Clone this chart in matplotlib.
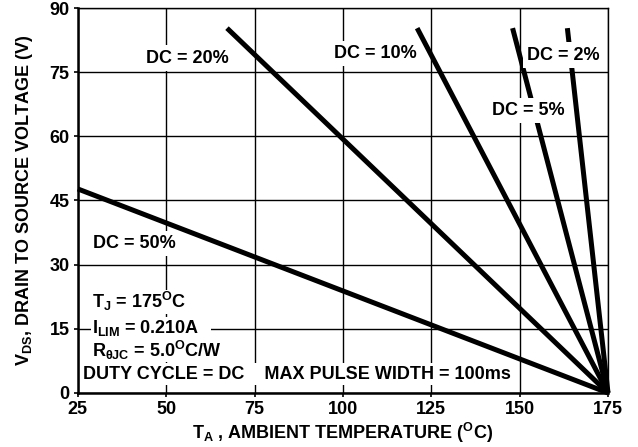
import matplotlib
matplotlib.use("Agg")
import matplotlib.pyplot as plt

plt.rcParams['font.family'] = ['Liberation Sans', 'DejaVu Sans']
plt.rcParams['font.weight'] = 'bold'
plt.rcParams['mathtext.fontset'] = 'custom'
plt.rcParams['mathtext.rm'] = 'Liberation Sans:bold'
plt.rcParams['mathtext.bf'] = 'Liberation Sans:bold'
plt.rcParams['mathtext.it'] = 'Liberation Sans:bold'

# Data: each duty-cycle line runs from a start point to (175 C, 0 V)
duty_labels = ["DC = 50%", "DC = 20%", "DC = 10%", "DC = 5%", "DC = 2%"]
start_temp = [25.0, 67.2, 121.0, 148.0, 163.5]
start_volt = [47.7, 85.3, 85.3, 85.3, 85.3]
end_temp = 175.0
end_volt = 0.0

x_ticks = [25, 50, 75, 100, 125, 150, 175]
y_ticks = [0, 15, 30, 45, 60, 75, 90]

fig = plt.figure(figsize=(6.38, 4.47), dpi=100)
ax = fig.add_axes([0.122, 0.121, 0.831, 0.861])

ax.set_xlim(25, 175)
ax.set_ylim(0, 90)
ax.set_xticks(x_ticks)
ax.set_yticks(y_ticks)
ax.grid(True, color='black', linewidth=1.0, zorder=1)
ax.set_axisbelow(True)

for st, sv in zip(start_temp, start_volt):
    ax.plot([st, end_temp], [sv, end_volt], color='black', linewidth=3.6,
            solid_capstyle='butt', zorder=3, clip_on=False)

for sp in ax.spines.values():
    sp.set_linewidth(1.0)
ax.spines['left'].set_linewidth(1.8)
ax.spines['bottom'].set_linewidth(1.8)

fs = 13
ax.tick_params(direction='out', length=3, width=1.2, labelsize=fs, pad=3)
for lab in ax.get_xticklabels() + ax.get_yticklabels():
    lab.set_fontweight('bold')

bb = dict(facecolor='white', edgecolor='none', pad=3)

label_pos = {
    "DC = 50%": (40.9, 35.0),
    "DC = 20%": (55.9, 78.3),
    "DC = 10%": (109.2, 79.4),
    "DC = 5%": (152.5, 66.0),
    "DC = 2%": (162.4, 79.0),
}
for lab in duty_labels:
    x, y = label_pos[lab]
    ax.text(x, y, lab, ha='center', va='center', fontsize=fs,
            fontweight='bold', bbox=bb, zorder=5)

info_lines = [
    (29.0, 21.3, r"T$_\mathrm{J}$ = 175$^\mathrm{O}$C"),
    (29.0, 15.2, r"I$_\mathrm{LIM}$ = 0.210A   "),
    (29.0, 10.0, r"R$_\mathrm{θJC}$ = 5.0$^\mathrm{O}$C/W"),
]
bb_info = dict(facecolor='white', edgecolor='none', pad=0.5)
for i, (x, y, t) in enumerate(info_lines):
    ax.text(x, y, t, ha='left', va='center', fontsize=fs, fontweight='bold',
            bbox=bb_info, zorder=5)

ax.text(26.4, 4.4, "DUTY CYCLE = DC    MAX PULSE WIDTH = 100ms", ha='left',
        va='center', fontsize=fs, fontweight='bold',
        bbox=dict(facecolor='white', edgecolor='none', pad=2), zorder=5)

ax.set_xlabel(r"T$_\mathrm{A}$ , AMBIENT TEMPERATURE ($^\mathrm{O}$C)",
              fontsize=fs, fontweight='bold', labelpad=2)
ax.set_ylabel(r"V$_\mathrm{DS}$, DRAIN TO SOURCE VOLTAGE (V)",
              fontsize=fs, fontweight='bold', labelpad=10)

fig.savefig("out.png", dpi=100)
